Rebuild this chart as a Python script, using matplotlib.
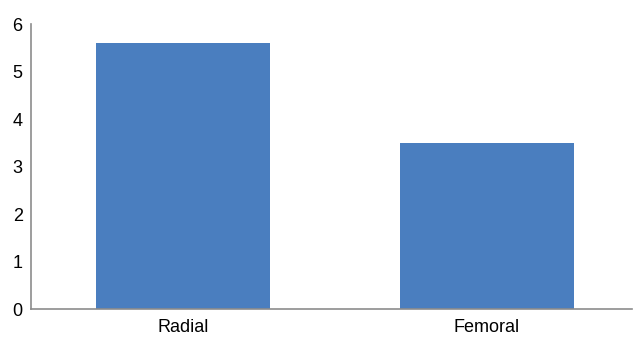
import matplotlib
matplotlib.use("Agg")
import matplotlib.pyplot as plt

# access site vs value
categories = ["Radial", "Femoral"]
values = [5.6, 3.5]
y_ticks = [0, 1, 2, 3, 4, 5, 6]

plt.rcParams['font.family'] = ['Liberation Sans', 'DejaVu Sans']

fig = plt.figure(figsize=(6.38, 3.41), dpi=100)
ax = fig.add_axes([0.0486, 0.0938, 0.942, 0.8358])

ax.bar(range(len(categories)), values, width=0.572, color="#4a7ebf")

ax.set_xlim(-0.5, 1.477)
ax.set_ylim(0, 6)
ax.set_yticks(y_ticks)
ax.set_xticks(range(len(categories)))
ax.set_xticklabels(categories)

for side in ["top", "right"]:
    ax.spines[side].set_visible(False)
for side in ["left", "bottom"]:
    ax.spines[side].set_color("#8c8c8c")
    ax.spines[side].set_linewidth(1.2)

ax.tick_params(axis="both", length=0, labelsize=13, colors="black")
ax.tick_params(axis="y", pad=6)
ax.tick_params(axis="x", pad=7)

fig.savefig("out.png", dpi=100)
